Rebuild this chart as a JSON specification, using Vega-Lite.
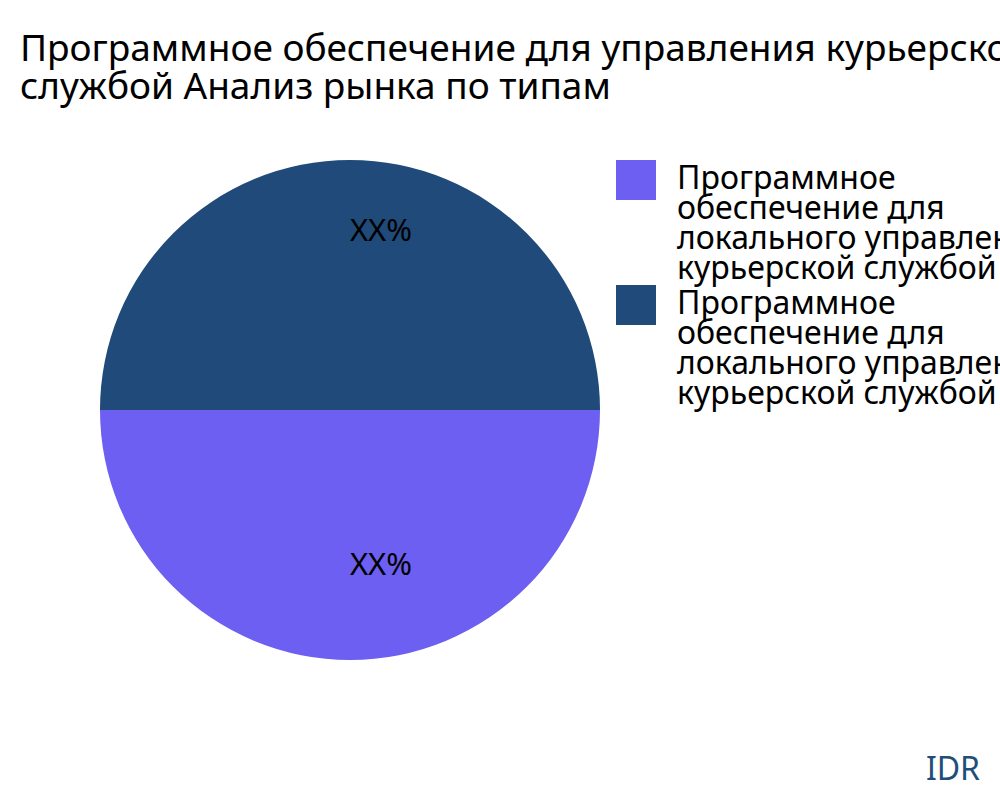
{
  "$schema": "https://vega.github.io/schema/vega-lite/v6.json",
  "width": 700,
  "height": 500,
  "autosize": "none",
  "padding": {"left": 0, "top": 160, "right": 300, "bottom": 140},
  "background": "white",
  "config": {"view": {"stroke": null}, "font": "Noto Sans"},
  "title": {
    "text": ["Программное обеспечение для управления курьерской", "службой Анализ рынка по типам"],
    "anchor": "start",
    "font": "Noto Sans",
    "fontSize": 37,
    "fontWeight": "normal",
    "color": "#000000",
    "lineHeight": 38,
    "dx": 20,
    "offset": 53
  },
  "data": {
    "values": [
      {"type": "Программное обеспечение для локального управления курьерской службой", "share": 50, "label": "XX%"},
      {"type": "Программное обеспечение для локального управления курьерской службой ", "share": 50, "label": "XX%"}
    ]
  },
  "layer": [
    {
      "mark": {"type": "arc", "strokeWidth": 0},
      "encoding": {
        "theta": {"field": "share", "type": "quantitative", "stack": true, "scale": {"range": [1.5708, 7.854]}},
        "color": {
          "field": "type",
          "type": "nominal",
          "scale": {"range": ["#6c5ff1", "#1f4a7a"]},
          "legend": {
            "title": null,
            "orient": "none",
            "legendX": 616,
            "legendY": 0,
            "symbolType": "square",
            "symbolSize": 1600,
            "symbolStrokeWidth": 0,
            "labelFont": "Noto Sans",
            "labelFontSize": 32,
            "labelColor": "#000000",
            "labelOffset": 21,
            "labelLimit": 2000,
            "labelBaseline": "alphabetic",
            "rowPadding": -10,
            "labelExpr": "[split(datum.label, ' ')[0], join(slice(split(datum.label, ' '), 1, 3), ' '), join(slice(split(datum.label, ' '), 3, 5), ' '), join(slice(split(datum.label, ' '), 5, 7), ' ')]",
            "encode": {"labels": {"update": {"dy": {"value": 9}, "lineHeight": {"value": 30}}}}
          }
        }
      }
    },
    {
      "mark": {"type": "text", "radius": 167, "dx": 31, "dy": -11, "fontSize": 31, "font": "Noto Sans", "color": "#000000", "baseline": "middle"},
      "encoding": {
        "theta": {"field": "share", "type": "quantitative", "stack": true, "scale": {"range": [1.5708, 7.854]}},
        "detail": {"field": "type", "type": "nominal"},
        "text": {"field": "label", "type": "nominal"}
      }
    },
    {
      "data": {"values": [{"brand": "IDR"}]},
      "mark": {"type": "text", "x": 980, "y": 620, "align": "right", "baseline": "alphabetic", "fontSize": 32, "font": "Noto Sans", "color": "#1f4e79"},
      "encoding": {"text": {"field": "brand", "type": "nominal"}}
    }
  ]
}
